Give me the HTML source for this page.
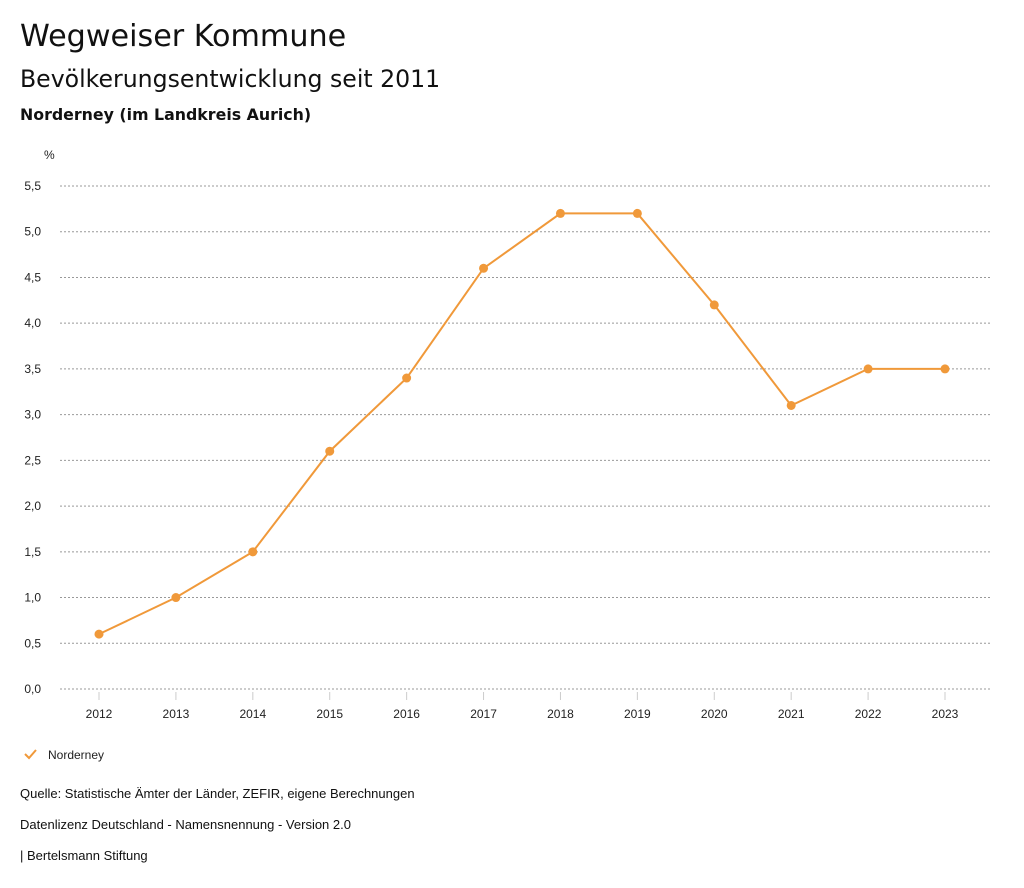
<!DOCTYPE html>
<html><head><meta charset="utf-8"><style>
body{margin:0;width:1024px;height:888px;background:#fff;font-family:"Liberation Sans",sans-serif;color:#111;overflow:hidden}
.t{position:absolute;white-space:nowrap}
.h{font-family:"DejaVu Sans","Liberation Sans",sans-serif}
</style></head><body>
<div class="t h" style="left:20px;top:19px;font-size:30.2px">Wegweiser Kommune</div>
<div class="t h" style="left:20px;top:65px;font-size:23.6px">Bevölkerungsentwicklung seit 2011</div>
<div class="t h" style="left:20px;top:105px;font-size:15.8px;font-weight:bold">Norderney (im Landkreis Aurich)</div>
<svg id="c" width="1024" height="888" style="position:absolute;left:0;top:0"></svg>
<div class="t" style="left:20px;top:786px;font-size:13px">Quelle: Statistische Ämter der Länder, ZEFIR, eigene Berechnungen</div>
<div class="t" style="left:20px;top:817px;font-size:13px">Datenlizenz Deutschland - Namensnennung - Version 2.0</div>
<div class="t" style="left:20px;top:848px;font-size:13px">| Bertelsmann Stiftung</div>
<script>
const years=["2012","2013","2014","2015","2016","2017","2018","2019","2020","2021","2022","2023"];
const values=[0.6,1.0,1.5,2.6,3.4,4.6,5.2,5.2,4.2,3.1,3.5,3.5];
const yTicks=[0,0.5,1,1.5,2,2.5,3,3.5,4,4.5,5,5.5];
const NS="http://www.w3.org/2000/svg",svg=document.getElementById('c');
const x=i=>99+i*(945-99)/11, y=v=>689-v*(689-186)/5.5;
function el(t,a,txt){const e=document.createElementNS(NS,t);for(const k in a)e.setAttribute(k,a[k]);if(txt!=null)e.textContent=txt;svg.appendChild(e);return e;}
let e=el('text',{x:44,y:159,'font-size':12,fill:'#222'},'%');


yTicks.forEach(v=>{
 let g=el('line',{x1:60,x2:990,y1:y(v),y2:y(v),stroke:'#999','stroke-dasharray':'2,2'});
 
 
 let t=el('text',{x:41,y:y(v)+4,'font-size':12,'text-anchor':'end',fill:'#222'},v.toFixed(1).replace('.',','));
 
 
});
years.forEach((yr,i)=>{
 let k=el('line',{x1:x(i),x2:x(i),y1:692,y2:700,stroke:'#ccc'});
 
 
 let t=el('text',{x:x(i),y:718,'font-size':12,'text-anchor':'middle',fill:'#222'},yr);
 
 
});
let p=el('polyline',{points:values.map((v,i)=>x(i)+','+y(v)).join(' '),fill:'none',stroke:'#f0993a','stroke-width':2});


values.forEach((v,i)=>{
 let c=el('circle',{cx:x(i),cy:y(v),r:4.5,fill:'#f0993a'});
 
 
});
let ck=el('polyline',{points:'25,754 29,758 36,750',fill:'none',stroke:'#f0993a','stroke-width':2});


let lt=el('text',{x:48,y:759,'font-size':12,fill:'#222'},'Norderney');


</script>
</body></html>
